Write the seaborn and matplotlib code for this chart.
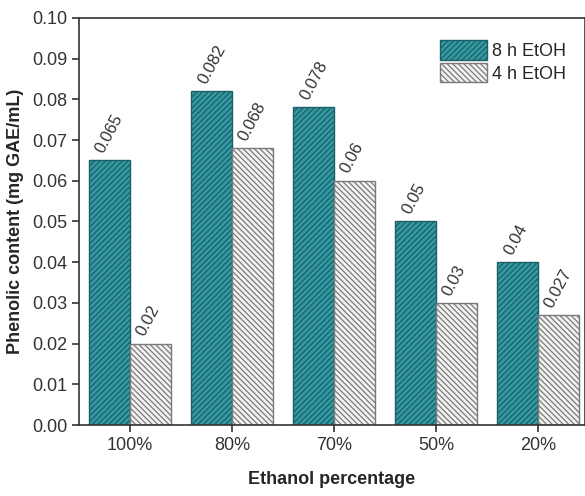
import pandas as pd
import matplotlib
matplotlib.use('Agg')
import matplotlib.pyplot as plt
import seaborn as sns

categories = ['100%', '80%', '70%', '50%', '20%']
etoh_8h = [0.065, 0.082, 0.078, 0.05, 0.04]
etoh_4h = [0.02, 0.068, 0.06, 0.03, 0.027]
labels_8h = ['0.065', '0.082', '0.078', '0.05', '0.04']
labels_4h = ['0.02', '0.068', '0.06', '0.03', '0.027']
series = ['8 h EtOH', '4 h EtOH']

df = pd.DataFrame({
    'cat': categories * 2,
    'val': etoh_8h + etoh_4h,
    'series': [series[0]] * 5 + [series[1]] * 5,
})

sns.set_style('ticks')
plt.rcParams['font.family'] = ['Liberation Sans', 'DejaVu Sans']
plt.rcParams['hatch.linewidth'] = 0.9

fig = plt.figure(figsize=(5.85, 4.96), dpi=100)
ax = fig.add_axes([0.135, 0.143, 0.865, 0.821])

teal = '#3399a3'
pal = {series[0]: teal, series[1]: '#f2f2f2'}
edges = ['#1d5f66', '#7a7a7a']
hatches = ['//////', '\\\\\\\\\\\\']
sns.barplot(data=df, x='cat', y='val', hue='series', palette=pal,
            width=0.8, gap=0, ax=ax, saturation=1, legend=True)

for i, bars in enumerate(ax.containers):
    for p in bars:
        p.set_hatch(hatches[i])
        p.set_edgecolor(edges[i])
        p.set_linewidth(1.0)
    labs = labels_8h if i == 0 else labels_4h
    for p, t in zip(bars, labs):
        ax.text(p.get_x() + p.get_width() / 2 - 0.03, p.get_height() + 0.0012, t,
                rotation=62, ha='left', va='bottom', fontsize=12, color='#333333',
                rotation_mode='anchor')

ax.set_ylim(0, 0.10)
ax.set_xlim(-0.5, 4.46)
ax.set_yticks([i / 100 for i in range(11)])
ax.set_yticklabels(['%.2f' % (i / 100) for i in range(11)])
ax.tick_params(labelsize=13, colors='#333333', length=5, width=1.2)
ax.set_xlabel('Ethanol percentage', fontsize=13, fontweight='bold', labelpad=12)
ax.set_ylabel('Phenolic content (mg GAE/mL)', fontsize=13, fontweight='bold', labelpad=6)
for s in ax.spines.values():
    s.set_linewidth(1.2)
    s.set_color('#333333')

leg = ax.legend(loc='upper right', bbox_to_anchor=(0.995, 0.985), frameon=False,
                fontsize=13, handlelength=2.6, handleheight=1.3,
                labelspacing=0.15, handletextpad=0.3)
for i, h in enumerate(leg.legend_handles):
    h.set_hatch(hatches[i])
    h.set_edgecolor(edges[i])
    h.set_linewidth(1.0)

fig.savefig('out.png', dpi=100)
